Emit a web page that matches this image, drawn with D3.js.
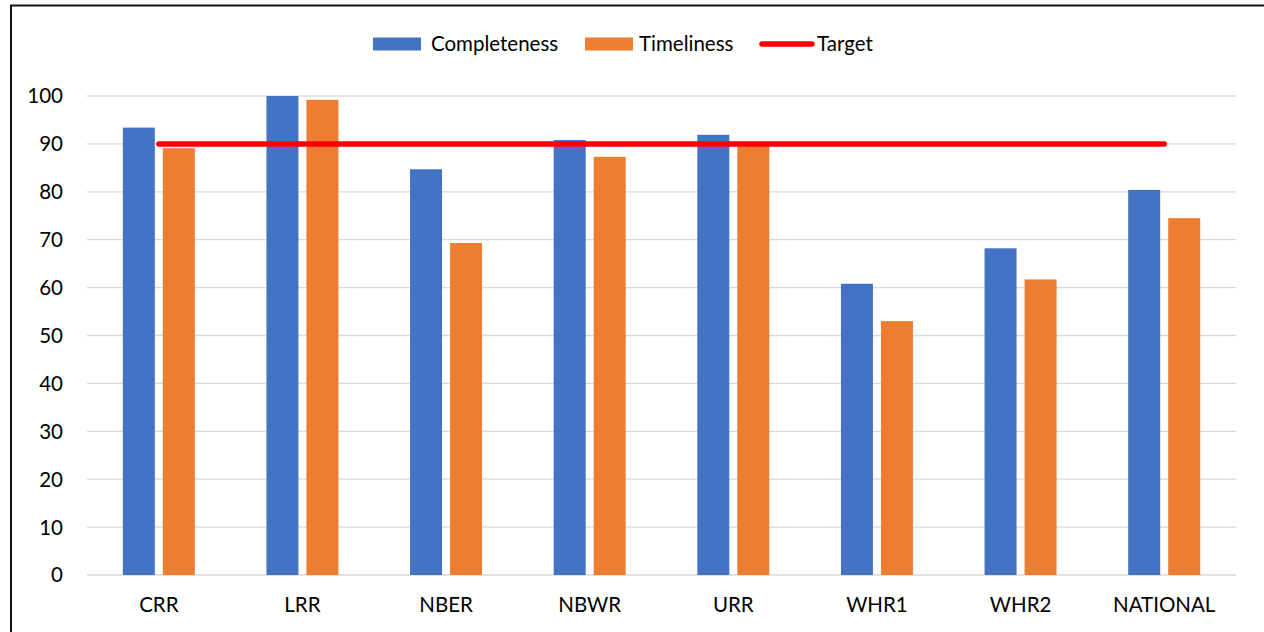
<!DOCTYPE html>
<html><head><meta charset="utf-8">
<script src="https://cdn.jsdelivr.net/npm/d3@7"></script>
<style>body{margin:0;background:#fff;}svg{display:block;}</style>
</head><body>
<script>
const categories = ["CRR","LRR","NBER","NBWR","URR","WHR1","WHR2","NATIONAL"];
const completeness = [93.4, 100, 84.7, 90.8, 91.9, 60.8, 68.2, 80.4];
const timeliness = [89.1, 99.2, 69.3, 87.3, 90.3, 53.0, 61.7, 74.5];
const target = [90, 90, 90, 90, 90, 90, 90, 90];
const yTicks = [0,10,20,30,40,50,60,70,80,90,100];
const seriesNames = ["Completeness","Timeliness","Target"];
const colors = ["#4472C4","#ED7D31","#FF0000"];

const W = 1264, H = 632;
const font = "Lato, 'Open Sans', sans-serif";
const fs = 20.5;
const svg = d3.select("body").append("svg").attr("width", W).attr("height", H);
svg.append("rect").attr("width", W).attr("height", H).attr("fill", "#fff");
// outer border (left + top visible)
svg.append("path").attr("d", "M11,640 L11,5.5 L1270,5.5").attr("fill","none").attr("stroke","#111").attr("stroke-width",2);

const x0 = d3.scaleBand().domain(categories).range([87, 1236]).paddingInner(0).paddingOuter(0);
const y = d3.scaleLinear().domain([0, 100]).range([575, 96]);
const barW = 32, gap = 8;

// gridlines
svg.append("g").selectAll("line").data(yTicks).join("line")
  .attr("x1", 87).attr("x2", 1236)
  .attr("y1", d => y(d)).attr("y2", d => y(d))
  .attr("stroke", "#d9d9d9").attr("stroke-width", 1.3);

// y axis labels
const yAxis = d3.axisLeft(y).tickValues(yTicks).tickSize(0).tickPadding(0);
const gy = svg.append("g").attr("transform", "translate(63,0)").call(yAxis);
gy.select(".domain").remove();
gy.selectAll("text").attr("font-family", font).attr("font-size", fs).attr("fill", "#000").attr("dy", "0.34em");

// x axis labels
const xAxis = d3.axisBottom(x0).tickSize(0).tickPadding(0);
const gx = svg.append("g").attr("transform", "translate(0,597)").call(xAxis);
gx.select(".domain").remove();
gx.selectAll("text").attr("font-family", font).attr("font-size", fs).attr("fill", "#000").attr("dy", "0.71em");

// bars
const cx = c => x0(c) + x0.bandwidth() / 2;
svg.append("g").selectAll("rect").data(categories).join("rect")
  .attr("x", c => cx(c) - gap/2 - barW)
  .attr("width", barW)
  .attr("y", (c, i) => y(completeness[i]))
  .attr("height", (c, i) => y(0) - y(completeness[i]))
  .attr("fill", colors[0]);
svg.append("g").selectAll("rect").data(categories).join("rect")
  .attr("x", c => cx(c) + gap/2)
  .attr("width", barW)
  .attr("y", (c, i) => y(timeliness[i]))
  .attr("height", (c, i) => y(0) - y(timeliness[i]))
  .attr("fill", colors[1]);

// target line
const line = d3.line().x((d, i) => cx(categories[i])).y(d => y(d));
svg.append("path").datum(target).attr("d", line)
  .attr("fill", "none").attr("stroke", colors[2]).attr("stroke-width", 5.5).attr("stroke-linecap", "round");

// legend
const lg = svg.append("g");
const legendItems = [
  {name: seriesNames[0], type: "rect", x: 373, tx: 431},
  {name: seriesNames[1], type: "rect", x: 585, tx: 639},
  {name: seriesNames[2], type: "line", x: 762, tx: 817}
];
legendItems.forEach((it, i) => {
  if (it.type === "rect") {
    lg.append("rect").attr("x", it.x).attr("y", 37.5).attr("width", 48).attr("height", 13).attr("fill", colors[i]);
  } else {
    lg.append("line").attr("x1", it.x).attr("x2", it.x + 50).attr("y1", 44).attr("y2", 44)
      .attr("stroke", colors[i]).attr("stroke-width", 5.5).attr("stroke-linecap", "round");
  }
  lg.append("text").attr("x", it.tx).attr("y", 44).attr("dy", "0.35em")
    .attr("font-family", font).attr("font-size", fs).attr("fill", "#000").text(it.name);
});
</script>
</body></html>
